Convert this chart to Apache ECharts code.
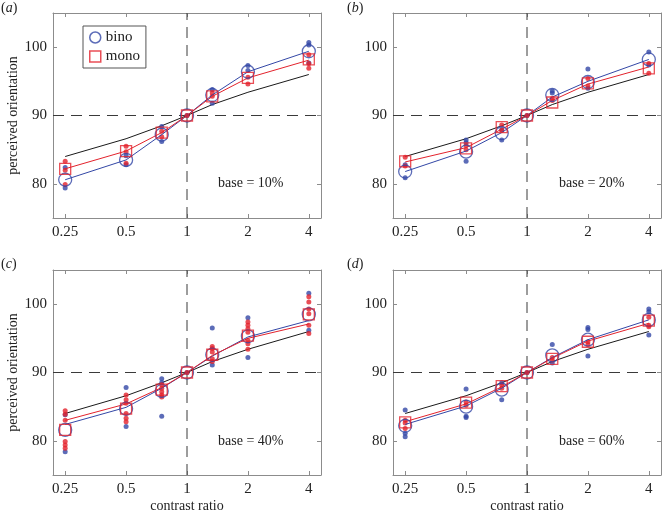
<!DOCTYPE html>
<html><head><meta charset="utf-8">
<script src="https://cdn.jsdelivr.net/npm/echarts@6/dist/echarts.min.js"></script>
<style>html,body{margin:0;padding:0;background:#fff}#c{width:663px;height:514px}</style>
</head><body><div id="c"></div>
<script>
// ---- data ----
const ratios = [0.25, 0.5, 0.75, 1, 1.333, 2, 4];
const xTickLabels = [0.25, 0.5, 1, 2, 4];
const yTickLabels = [80, 90, 100];
const panelLetters = ['a', 'b', 'c', 'd'];
const baseLabels = ['base = 10%', 'base = 20%', 'base = 40%', 'base = 60%'];
const model = [84.0, 86.6, 88.5, 90, 91.6, 93.4, 96.0];
const refX = 1, refY = 90;

const aBinoMean = [80.6, 83.5, 87.2, 90, 93.0, 96.4, 99.4];
const aMonoMean = [82.2, 84.8, 87.5, 90, 92.8, 95.5, 98.2];
const aBinoFit  = [80.6, 83.5, 87.2, 90, 93.0, 96.4, 99.4];
const aMonoFit  = [82.2, 84.8, 87.5, 90, 92.8, 95.5, 98.1];
const aBinoDots = [[82.4, 79.4], [84.1, 82.8], [88.4, 86.2], [90], [93.8, 91.8], [97.3, 96.6], [100.7, 100.3, 97.7]];
const aMonoDots = [[83.3, 82.0, 79.9], [85.5, 84.7, 83.0], [87.7, 86.9], [90], [93.3, 92.8], [95.6, 94.6], [98.9, 97.6, 96.9]];

const bBinoMean = [81.8, 84.7, 87.4, 90, 93.0, 94.9, 98.2];
const bMonoMean = [83.3, 85.2, 88.3, 90, 91.9, 94.7, 96.9];
const bBinoFit  = [81.8, 84.8, 87.5, 90, 92.7, 95.0, 98.2];
const bMonoFit  = [83.2, 85.3, 88.0, 90, 92.2, 94.6, 97.1];
const bBinoDots = [[82.8, 80.9], [86.4, 86.0, 83.3], [87.9, 86.4], [90], [93.6, 93.3], [96.8, 94.0], [99.3, 97.4]];
const bMonoDots = [[83.9, 82.6], [85.6, 85.0], [88.6, 87.8], [90], [92.5, 92.2], [95.4, 94.3], [97.6, 96.2]];

const cBinoMean = [81.6, 84.7, 87.3, 90, 92.6, 95.3, 98.5];
const cMonoMean = [81.6, 84.7, 87.5, 90, 92.6, 95.4, 98.5];
const cBinoFit  = [82.4, 84.9, 87.7, 90, 92.4, 95.2, 97.6];
const cMonoFit  = [83.0, 85.4, 87.8, 90, 92.5, 95.0, 97.1];
const cBinoDots = [[83.8, 78.4], [87.8, 82.1], [89.1, 88.5, 83.6], [90], [96.5, 91.1], [98.0, 92.2], [101.6, 96.2]];
const cMonoDots = [[84.4, 83.9, 83.0, 79.9, 79.4, 78.9], [86.7, 86.0, 85.5, 84.0, 83.3, 82.8], [88.2, 87.7, 87.2, 86.7, 86.4], [90], [93.8, 93.5, 93.0, 92.0, 91.6], [97.4, 96.9, 96.4, 95.9, 94.7, 94.2, 93.4], [101.1, 100.3, 99.3, 98.6, 96.9, 95.7]];

const dBinoMean = [82.2, 85.0, 87.5, 90, 92.5, 94.8, 97.7];
const dMonoMean = [82.7, 85.6, 88.0, 90, 92.0, 94.5, 97.6];
const dBinoFit  = [82.4, 85.1, 87.7, 90, 92.2, 94.8, 97.7];
const dMonoFit  = [82.8, 85.4, 87.9, 90, 92.1, 94.6, 97.2];
const dBinoDots = [[84.5, 81.1, 80.6], [87.6, 83.6, 83.4], [88.5, 86.0], [90], [94.1, 91.4], [96.6, 96.3, 92.4], [99.3, 98.9, 95.5]];
const dMonoDots = [[83.0, 82.6, 81.8], [85.7, 85.2], [88.2, 87.7], [90], [92.2, 91.8], [94.5, 94.1], [98.1, 96.9, 96.7]];

const panels = [
  {binoMean: aBinoMean, monoMean: aMonoMean, binoFit: aBinoFit, monoFit: aMonoFit, binoDots: aBinoDots, monoDots: aMonoDots},
  {binoMean: bBinoMean, monoMean: bMonoMean, binoFit: bBinoFit, monoFit: bMonoFit, binoDots: bBinoDots, monoDots: bMonoDots},
  {binoMean: cBinoMean, monoMean: cMonoMean, binoFit: cBinoFit, monoFit: cMonoFit, binoDots: cBinoDots, monoDots: cMonoDots},
  {binoMean: dBinoMean, monoMean: dMonoMean, binoFit: dBinoFit, monoFit: dMonoFit, binoDots: dBinoDots, monoDots: dMonoDots}
];

// ---- styling / layout ----
const BLUE = '#3347a6', RED = '#e3222c', BOX = '#8c8c8c', TXT = '#222';
const FONT = 'Liberation Serif';
const xMin = 0.25 / Math.pow(2, 0.2), xMax = 4 * Math.pow(2, 0.2);
const yMin = 75, yMax = 105;
const grids = [
  {left: 53, top: 13, width: 268, height: 205},
  {left: 393, top: 13, width: 268, height: 205},
  {left: 53, top: 270, width: 268, height: 206},
  {left: 393, top: 270, width: 268, height: 206}
];

const pairs = (ys) => ys.map((y, i) => [ratios[i], y]);
const dotPairs = (arr) => { const out = []; arr.forEach((ys, i) => ys.forEach(y => out.push([ratios[i], y]))); return out; };

const xAxes = [], yAxes = [], series = [];
grids.forEach((g, i) => {
  const bottomRow = i >= 2, leftCol = i % 2 === 0;
  const axLine = {show: true, lineStyle: {color: BOX, width: 1}};
  xAxes.push({
    type: 'log', logBase: 2, gridIndex: i, min: xMin, max: xMax, position: 'bottom',
    axisLine: axLine, splitLine: {show: false},
    axisTick: {show: true, inside: true, length: 4, lineStyle: {color: BOX}, customValues: xTickLabels},
    axisLabel: {show: true, customValues: xTickLabels, fontFamily: FONT, fontSize: 15, color: TXT, margin: 7,
      formatter: v => String(+(+v).toFixed(2))},
    minorTick: {show: false},
    name: bottomRow ? 'contrast ratio' : '', nameLocation: 'middle', nameGap: 24,
    nameTextStyle: {fontFamily: FONT, fontSize: 14, color: TXT}
  });
  xAxes.push({
    type: 'log', logBase: 2, gridIndex: i, min: xMin, max: xMax, position: 'top',
    axisLine: axLine, splitLine: {show: false},
    axisTick: {show: true, inside: true, length: 4, lineStyle: {color: BOX}, customValues: xTickLabels},
    axisLabel: {show: false}
  });
  yAxes.push({
    type: 'value', gridIndex: i, min: yMin, max: yMax, position: 'left',
    axisLine: axLine, splitLine: {show: false},
    axisTick: {show: true, inside: true, length: 4, lineStyle: {color: BOX}, customValues: yTickLabels},
    axisLabel: {show: true, customValues: yTickLabels, fontFamily: FONT, fontSize: 15, color: TXT, margin: 6},
    name: leftCol ? 'perceived orientation' : '', nameLocation: 'middle', nameGap: 32, nameRotate: 90,
    nameTextStyle: {fontFamily: FONT, fontSize: 14, color: TXT}
  });
  yAxes.push({
    type: 'value', gridIndex: i, min: yMin, max: yMax, position: 'right',
    axisLine: axLine, splitLine: {show: false},
    axisTick: {show: true, inside: true, length: 4, lineStyle: {color: BOX}, customValues: yTickLabels},
    axisLabel: {show: false}
  });

  const p = panels[i];
  const ax = {xAxisIndex: 2 * i, yAxisIndex: 2 * i};
  const dash = {color: '#3a3a3a', type: [11, 7], width: 1};
  series.push(Object.assign({type: 'line', name: 'refV', data: [[refX, yMin], [refX, yMax]], symbol: 'none',
    lineStyle: dash, z: 1, silent: true}, ax));
  series.push(Object.assign({type: 'line', name: 'refH', data: [[xMin, refY], [xMax, refY]], symbol: 'none',
    lineStyle: dash, z: 1, silent: true}, ax));
  series.push(Object.assign({
    type: 'line', name: 'model', data: pairs(model), symbol: 'none', silent: true,
    lineStyle: {color: '#1a1a1a', width: 1}, z: 2
  }, ax));
  series.push(Object.assign({type: 'scatter', name: 'binoDots', data: dotPairs(p.binoDots), symbol: 'circle', symbolSize: 5,
    itemStyle: {color: BLUE}, z: 3, silent: true}, ax));
  series.push(Object.assign({type: 'scatter', name: 'monoDots', data: dotPairs(p.monoDots), symbol: 'circle', symbolSize: 5,
    itemStyle: {color: RED}, z: 3, silent: true}, ax));
  series.push(Object.assign({type: 'line', name: 'binoFit', data: pairs(p.binoFit), symbol: 'none',
    lineStyle: {color: BLUE, width: 1}, z: 4, silent: true}, ax));
  series.push(Object.assign({type: 'line', name: 'monoFit', data: pairs(p.monoFit), symbol: 'none',
    lineStyle: {color: RED, width: 1}, z: 4, silent: true}, ax));
  series.push(Object.assign({type: 'scatter', name: 'bino', data: pairs(p.binoMean), symbol: 'circle', symbolSize: 13,
    itemStyle: {color: 'rgba(255,255,255,0)', borderColor: BLUE, borderWidth: 1.3}, z: 5, silent: true}, ax));
  series.push(Object.assign({type: 'scatter', name: 'mono', data: pairs(p.monoMean), symbol: 'rect', symbolSize: 11,
    itemStyle: {color: 'rgba(255,255,255,0)', borderColor: RED, borderWidth: 1.3}, z: 6, silent: true}, ax));
});

const labelPos = [[1, 1], [347, 1], [1, 257], [347, 257]];
const basePos = [[218, 176], [559, 176], [218, 434], [559, 434]];
const graphic = [];
panelLetters.forEach((l, i) => {
  graphic.push({type: 'text', left: labelPos[i][0], top: labelPos[i][1],
    style: {text: '{n|(}{i|' + l + '}{n|)}', rich: {
      n: {fontFamily: FONT, fontSize: 14, fill: TXT},
      i: {fontFamily: FONT, fontSize: 14, fontStyle: 'italic', fill: TXT}}}});
  graphic.push({type: 'text', left: basePos[i][0], top: basePos[i][1],
    style: {text: baseLabels[i], fontFamily: FONT, fontSize: 14, fill: TXT}});
});

const chart = echarts.init(document.getElementById('c'), null, {renderer: 'canvas'});
chart.setOption({
  animation: false,
  backgroundColor: '#fff',
  grid: grids,
  xAxis: xAxes,
  yAxis: yAxes,
  legend: {
    data: [
      {name: 'bino', icon: 'circle', itemStyle: {color: 'rgba(255,255,255,0)', borderColor: BLUE, borderWidth: 1.5}},
      {name: 'mono', icon: 'rect', itemStyle: {color: 'rgba(255,255,255,0)', borderColor: RED, borderWidth: 1.5}}
    ],
    orient: 'vertical', left: 83, top: 26, padding: [4, 6, 4, 6], itemGap: 4,
    itemWidth: 11, itemHeight: 11, borderColor: '#555', borderWidth: 1, borderRadius: 0,
    backgroundColor: '#fff', selectedMode: false,
    textStyle: {fontFamily: FONT, fontSize: 15, color: TXT}
  },
  graphic: graphic,
  series: series
});
</script>
</body></html>
